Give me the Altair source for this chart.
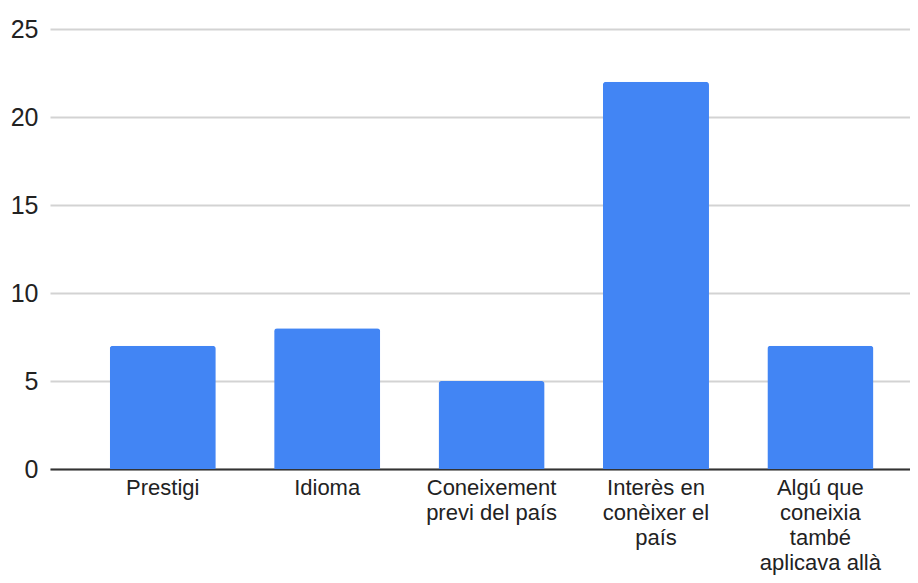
import altair as alt
import pandas as pd

categories = [
    "Prestigi",
    "Idioma",
    "Coneixement\nprevi del país",
    "Interès en\nconèixer el\npaís",
    "Algú que\nconeixia\ntambé\naplicava allà",
]
values = [7, 8, 5, 22, 7]
y_ticks = [0, 5, 10, 15, 20, 25]

df = pd.DataFrame({"category": categories, "value": values})

FONT = "Liberation Sans"

chart = (
    alt.Chart(df)
    .mark_bar(color="#4285F4", cornerRadiusTopLeft=3, cornerRadiusTopRight=3)
    .encode(
        x=alt.X(
            "category:N",
            sort=categories,
            title=None,
            scale=alt.Scale(paddingInner=0.355, paddingOuter=0.293, align=0.62),
            axis=alt.Axis(
                labelAngle=0,
                labelExpr="split(datum.label, '\\n')",
                labelFont=FONT,
                labelFontSize=22,
                labelColor="#222222",
                labelLineHeight=25,
                labelPadding=8,
                labelOverlap=False,
                labelLimit=400,
                ticks=False,
                domainColor="#333333",
                domainWidth=2,
                grid=False,
            ),
        ),
        y=alt.Y(
            "value:Q",
            title=None,
            scale=alt.Scale(domain=[0, 25], nice=False),
            axis=alt.Axis(
                values=y_ticks,
                ticks=False,
                domain=False,
                labelFont=FONT,
                labelFontSize=25,
                labelColor="#222222",
                labelPadding=12,
                gridColor="#d3d3d3",
                gridWidth=2,
            ),
        ),
    )
    .properties(
        width=860,
        height=440,
        autosize=alt.AutoSizeParams(type="none"),
        padding={"left": 42, "top": 21, "right": 0, "bottom": 106},
    )
    .configure_view(stroke=None)
)

chart.save("out.html", embed_options={"renderer": "svg", "actions": False})
